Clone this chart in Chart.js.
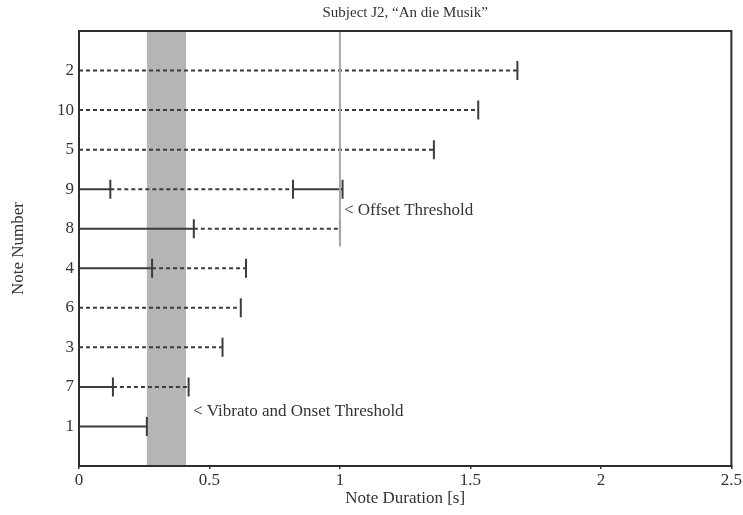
<!DOCTYPE html>
<html>
<head>
<meta charset="utf-8">
<script src="https://cdn.jsdelivr.net/npm/chart.js@4/dist/chart.umd.min.js"></script>
<style>
  html, body { margin: 0; padding: 0; background: #fff; }
  #wrap { width: 743px; height: 515px; position: relative; }
</style>
</head>
<body>
<div id="wrap"><canvas id="c"></canvas></div>
<script>
// Notes listed from the bottom row (position 1) to the top row (position 10)
const notes = ['1', '7', '3', '6', '4', '8', '9', '5', '10', '2'];
// End of the initial solid segment (onset), seconds
const onsetEnd = [0.26, 0.13, null, null, 0.28, 0.44, 0.12, null, null, null];
// End of the dashed segment, seconds
const sustainEnd = [null, 0.42, 0.55, 0.62, 0.64, 1.00, 0.82, 1.36, 1.53, 1.68];
// End of a trailing solid segment (offset), seconds
const offsetEnd = [null, null, null, null, null, null, 1.01, null, null, null];
// Vibrato / onset threshold band, seconds
const vibratoBand = [0.26, 0.41];
// Offset threshold, seconds
const offsetThreshold = 1.0;
const offsetLineFrom = 5.55;
const xTickValues = [0, 0.5, 1, 1.5, 2, 2.5];
const chartTitle = 'Subject J2, \u201cAn die Musik\u201d';

const INK = '#3c3c3c';
const TEXT = '#333';
const FONT = 'Liberation Serif';

const datasets = [];
// Offset threshold vertical line
datasets.push({
  data: [{ x: offsetThreshold, y: offsetLineFrom }, { x: offsetThreshold, y: notes.length + 1 }],
  showLine: true, pointRadius: 0, borderColor: '#a8a8a8', borderWidth: 2
});

const marks = [];
notes.forEach((n, i) => {
  const y = i + 1;
  let start = 0;
  const segs = [[onsetEnd[i], false], [sustainEnd[i], true], [offsetEnd[i], false]];
  segs.forEach(([end, dashed]) => {
    if (end === null) return;
    datasets.push({
      data: [{ x: start, y }, { x: end, y }],
      showLine: true, pointRadius: 0, borderColor: INK, borderWidth: 2,
      borderDash: dashed ? [4, 3] : []
    });
    marks.push({ x: end, y });
    start = end;
  });
});

// Vertical end marks at each segment boundary
datasets.push({
  data: marks,
  showLine: false,
  pointStyle: 'line', rotation: 90, pointRadius: 9.5,
  borderColor: INK, borderWidth: 2
});

const bandPlugin = {
  id: 'band',
  beforeDatasetsDraw(chart) {
    const { ctx, chartArea, scales } = chart;
    const x0 = scales.x.getPixelForValue(vibratoBand[0]);
    const x1 = scales.x.getPixelForValue(vibratoBand[1]);
    ctx.save();
    ctx.fillStyle = '#b5b5b5';
    ctx.fillRect(x0, chartArea.top, x1 - x0, chartArea.bottom - chartArea.top);
    ctx.restore();
  }
};

const notesPlugin = {
  id: 'notesText',
  afterDatasetsDraw(chart) {
    const { ctx, scales } = chart;
    ctx.save();
    ctx.fillStyle = TEXT;
    ctx.font = '17px "' + FONT + '"';
    ctx.textBaseline = 'middle';
    ctx.textAlign = 'left';
    ctx.fillText('< Offset Threshold',
      scales.x.getPixelForValue(offsetThreshold) + 4, scales.y.getPixelForValue(6.45));
    ctx.fillText('< Vibrato and Onset Threshold',
      scales.x.getPixelForValue(vibratoBand[1]) + 7, scales.y.getPixelForValue(1.37));
    ctx.restore();
  },
  afterDraw(chart) {
    const { ctx, chartArea } = chart;
    ctx.save();
    ctx.strokeStyle = '#2e2e2e';
    ctx.lineWidth = 2;
    ctx.strokeRect(chartArea.left, chartArea.top, chartArea.right - chartArea.left, chartArea.bottom - chartArea.top);
    // Title centred over the plot frame
    ctx.fillStyle = TEXT;
    ctx.font = '15px "' + FONT + '"';
    ctx.textAlign = 'center';
    ctx.textBaseline = 'middle';
    ctx.fillText(chartTitle, (chartArea.left + chartArea.right) / 2, 13);
    ctx.restore();
  }
};

new Chart(document.getElementById('c'), {
  type: 'scatter',
  data: { datasets },
  plugins: [bandPlugin, notesPlugin],
  options: {
    responsive: true,
    maintainAspectRatio: false,
    animation: false,
    devicePixelRatio: 1,
    layout: { padding: { left: 0, right: 11, top: 31, bottom: 0 } },
    plugins: {
      legend: { display: false },
      tooltip: { enabled: false },
      title: { display: false }
    },
    scales: {
      x: {
        type: 'linear', min: 0, max: 2.5,
        afterBuildTicks(scale) { scale.ticks = xTickValues.map(v => ({ value: v })); },
        afterFit(scale) { scale.height = 49; },
        ticks: { color: TEXT, font: { family: FONT, size: 17 }, padding: 1,
                 callback: v => String(v) },
        grid: { drawOnChartArea: false, tickLength: 3, color: '#333', lineWidth: 1.5 },
        border: { display: true, color: '#2e2e2e', width: 2 },
        title: { display: true, text: 'Note Duration [s]', color: TEXT,
                 font: { family: FONT, size: 17 }, padding: { top: 0, bottom: 6 } }
      },
      y: {
        type: 'linear', min: 0, max: notes.length + 1,
        afterBuildTicks(scale) {
          scale.ticks = notes.map((n, i) => ({ value: i + 1 }));
        },
        afterFit(scale) { scale.width = 79; },
        ticks: { color: TEXT, font: { family: FONT, size: 17 }, padding: 5,
                 callback: v => notes[v - 1] ?? '' },
        grid: { display: false, drawTicks: false },
        border: { display: true, color: '#2e2e2e', width: 2 },
        title: { display: true, text: 'Note Number', color: TEXT,
                 font: { family: FONT, size: 17 }, padding: { top: 8, bottom: 0 } }
      }
    }
  }
});
</script>
</body>
</html>
